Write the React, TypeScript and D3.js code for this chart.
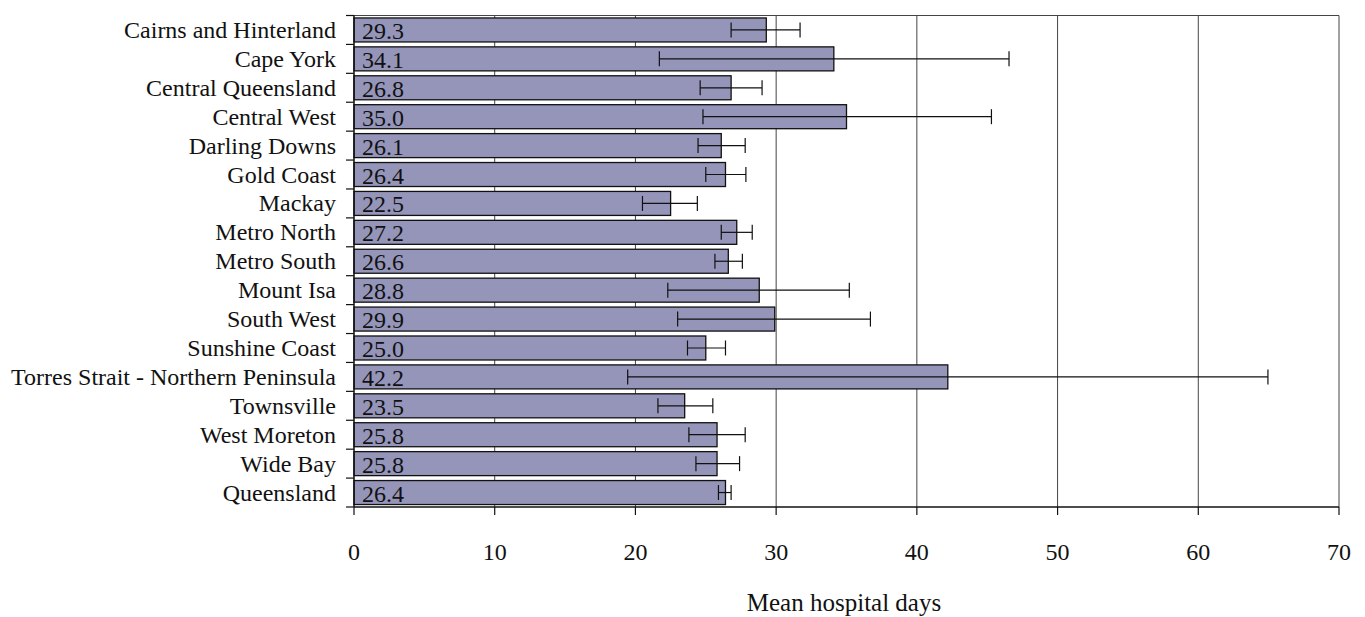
import React from "react";
import * as d3 from "d3";

const categories = [
  "Cairns and Hinterland",
  "Cape York",
  "Central Queensland",
  "Central West",
  "Darling Downs",
  "Gold Coast",
  "Mackay",
  "Metro North",
  "Metro South",
  "Mount Isa",
  "South West",
  "Sunshine Coast",
  "Torres Strait - Northern Peninsula",
  "Townsville",
  "West Moreton",
  "Wide Bay",
  "Queensland",
];
const means = [29.3, 34.1, 26.8, 35.0, 26.1, 26.4, 22.5, 27.2, 26.6, 28.8, 29.9, 25.0, 42.2, 23.5, 25.8, 25.8, 26.4];
const lower = [26.8, 21.7, 24.6, 24.8, 24.45, 25.0, 20.5, 26.1, 25.65, 22.3, 23.0, 23.7, 19.45, 21.6, 23.8, 24.3, 25.9];
const upper = [31.7, 46.55, 29.0, 45.3, 27.8, 27.85, 24.4, 28.3, 27.6, 35.2, 36.7, 26.4, 64.95, 25.5, 27.8, 27.4, 26.8];
const xTicks = [0, 10, 20, 30, 40, 50, 60, 70];
const xTitle = "Mean hospital days";

const W = 1365;
const H = 617;
const left = 354;
const right = 1339;
const top = 15.5;
const bottom = 507;
const FONT = "'Liberation Serif', 'Times New Roman', serif";

export default function App() {
  const x = d3.scaleLinear().domain([0, 70]).range([left, right]);
  const y = d3
    .scaleBand<string>()
    .domain(categories)
    .range([top, bottom])
    .paddingInner(0.17)
    .paddingOuter(0.085);
  const step = y.step();
  const bw = y.bandwidth();

  return (
    <svg
      width={W}
      height={H}
      style={{ position: "absolute", left: 0, top: 0, background: "#fff" }}
      fontFamily={FONT}
    >
      {/* gridlines */}
      {xTicks.slice(1).map((t) => (
        <line key={"g" + t} x1={x(t)} x2={x(t)} y1={top} y2={bottom} stroke="#444" strokeWidth={1} />
      ))}
      {/* plot border top */}
      <line x1={left} x2={right} y1={top} y2={top} stroke="#444" strokeWidth={1} />
      {/* bars */}
      {categories.map((c, i) => (
        <g key={c}>
          <rect
            x={x(0)}
            y={y(c)!}
            width={x(means[i]) - x(0)}
            height={bw}
            fill="#9595ba"
            stroke="#111"
            strokeWidth={1.3}
          />
          <text x={x(0) + 8} y={y(c)! + bw - 3} fontSize={24} fill="#111">
            {means[i].toFixed(1)}
          </text>
        </g>
      ))}
      {/* error bars */}
      {categories.map((c, i) => {
        const cy = y(c)! + bw / 2;
        return (
          <g key={"e" + c} stroke="#111" strokeWidth={1.2}>
            <line x1={x(lower[i])} x2={x(upper[i])} y1={cy} y2={cy} />
            <line x1={x(lower[i])} x2={x(lower[i])} y1={cy - 7.5} y2={cy + 7.5} />
            <line x1={x(upper[i])} x2={x(upper[i])} y1={cy - 7.5} y2={cy + 7.5} />
          </g>
        );
      })}
      {/* y axis */}
      <line x1={left} x2={left} y1={top} y2={bottom} stroke="#111" strokeWidth={1.5} />
      {d3.range(categories.length + 1).map((k) => (
        <line
          key={"yt" + k}
          x1={left - 8}
          x2={left}
          y1={top + k * step}
          y2={top + k * step}
          stroke="#111"
          strokeWidth={1.2}
        />
      ))}
      {categories.map((c) => (
        <text
          key={"yl" + c}
          x={336}
          y={y(c)! + bw / 2 + 8}
          textAnchor="end"
          fontSize={24}
          fill="#111"
        >
          {c}
        </text>
      ))}
      {/* x axis */}
      <line x1={left} x2={right} y1={bottom} y2={bottom} stroke="#111" strokeWidth={1.5} />
      {xTicks.map((t) => (
        <g key={"xt" + t}>
          <line x1={x(t)} x2={x(t)} y1={bottom} y2={bottom + 8} stroke="#111" strokeWidth={1.2} />
          <text x={x(t)} y={560} textAnchor="middle" fontSize={24} fill="#111">
            {t}
          </text>
        </g>
      ))}
      <text x={844} y={611} textAnchor="middle" fontSize={25} fill="#111">
        {xTitle}
      </text>
    </svg>
  );
}
